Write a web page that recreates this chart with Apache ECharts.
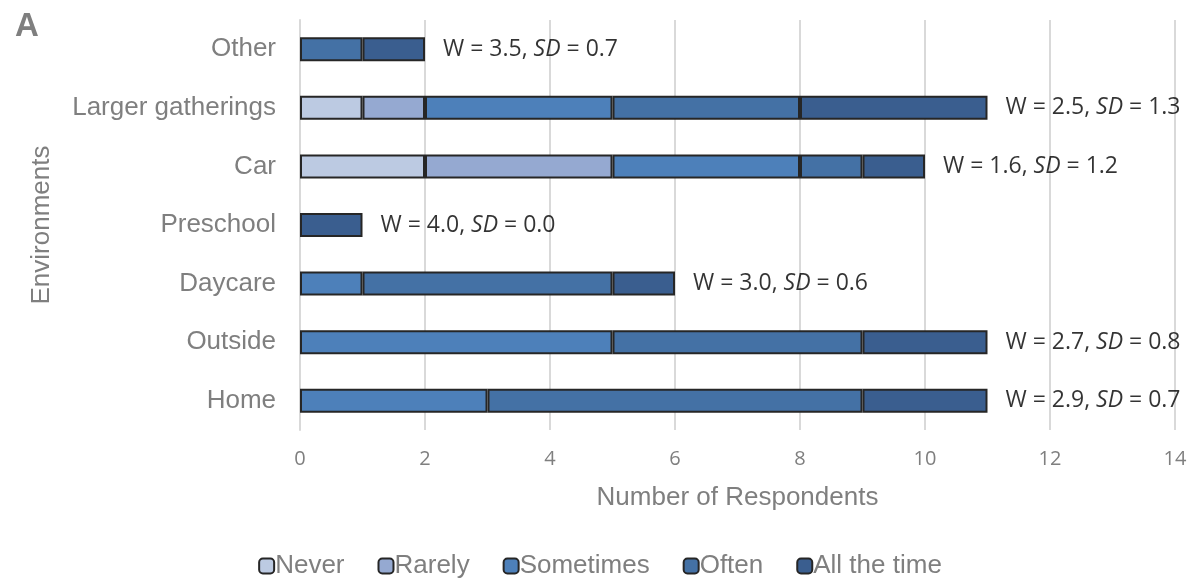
<!DOCTYPE html>
<html><head><meta charset="utf-8">
<script src="https://cdn.jsdelivr.net/npm/echarts@6/dist/echarts.min.js"></script>
<style>html,body{margin:0;padding:0;background:#fff}#c{width:1200px;height:584px}</style>
</head><body><div id="c"></div>
<script>
const categories = ['Home','Outside','Daycare','Preschool','Car','Larger gatherings','Other'];
const seriesNames = ['Never','Rarely','Sometimes','Often','All the time'];
const never     = [0,0,0,0,2,1,0];
const rarely    = [0,0,0,0,3,1,0];
const sometimes = [3,5,1,0,3,3,0];
const often     = [6,4,4,0,1,3,1];
const allTime   = [2,2,1,1,1,3,1];
const meanW  = ['2.9','2.7','3.0','4.0','1.6','2.5','3.5'];
const sdVals = ['0.7','0.8','0.6','0.0','1.2','1.3','0.7'];
const xTicks = [0,2,4,6,8,10,12,14];

const colors = ['#bccae2','#95a9d1','#4d80ba','#4471a5','#3a5e8f'];
const values = [never, rarely, sometimes, often, allTime];
const totals = categories.map((c,i)=>values.reduce((s,a)=>s+a[i],0));

const series = seriesNames.map((n,k)=>({
  name:n, type:'bar', stack:'t', barWidth:24,
  data: values[k].map(v=>v===0?null:v),
  itemStyle:{color:colors[k], borderColor:'#262626', borderWidth:2},
  emphasis:{disabled:true}
}));
series.push({
  type:'scatter', symbolSize:0, silent:true,
  data: categories.map((c,i)=>[totals[i], c]),
  label:{show:true, position:'right', distance:18,
    formatter: p=>'{n|W = '+meanW[p.dataIndex]+', }{i|SD}{n| = '+sdVals[p.dataIndex]+'}',
    rich:{n:{fontFamily:'Open Sans',fontSize:23,color:'#000'},
          i:{fontFamily:'Open Sans',fontSize:23,color:'#000',fontStyle:'italic'}}}
});

const chart = echarts.init(document.getElementById('c'));
chart.setOption({
  animation:false,
  title:{text:'A', left:10, top:5, textStyle:{fontFamily:'Liberation Sans',fontSize:33,fontWeight:'bold',color:'#7f7f7f'}},
  grid:{left:300,right:25,top:20,bottom:154,containLabel:false},
  legend:{bottom:0,left:'center',itemWidth:15,itemHeight:15,itemGap:33,
    data:seriesNames.map((n,k)=>({name:n,itemStyle:{color:colors[k],borderColor:'#262626',borderWidth:2}})),
    textStyle:{fontFamily:'Liberation Sans',fontSize:26,color:'#7f7f7f',padding:[0,0,0,-4]}},
  xAxis:{type:'value',min:0,max:14,interval:2,
    name:'Number of Respondents',nameLocation:'middle',nameGap:55,
    nameTextStyle:{fontFamily:'Liberation Sans',fontSize:26,color:'#7f7f7f'},
    axisLine:{show:false},axisTick:{show:false},
    axisLabel:{fontFamily:'Open Sans',fontSize:20,color:'#7f7f7f',margin:19,formatter:v=>xTicks.includes(v)?String(v):''},
    splitLine:{show:true,lineStyle:{color:'#d9d9d9',width:2}}},
  yAxis:{type:'category',data:categories,
    name:'Environments',nameLocation:'middle',nameGap:245,nameRotate:90,
    nameTextStyle:{fontFamily:'Liberation Sans',fontSize:26,color:'#7f7f7f'},
    axisLine:{show:true,lineStyle:{color:'#d9d9d9',width:2}},axisTick:{show:false},
    axisLabel:{fontFamily:'Liberation Sans',fontSize:26,color:'#7f7f7f',margin:24}},
  series:series
});
</script></body></html>
